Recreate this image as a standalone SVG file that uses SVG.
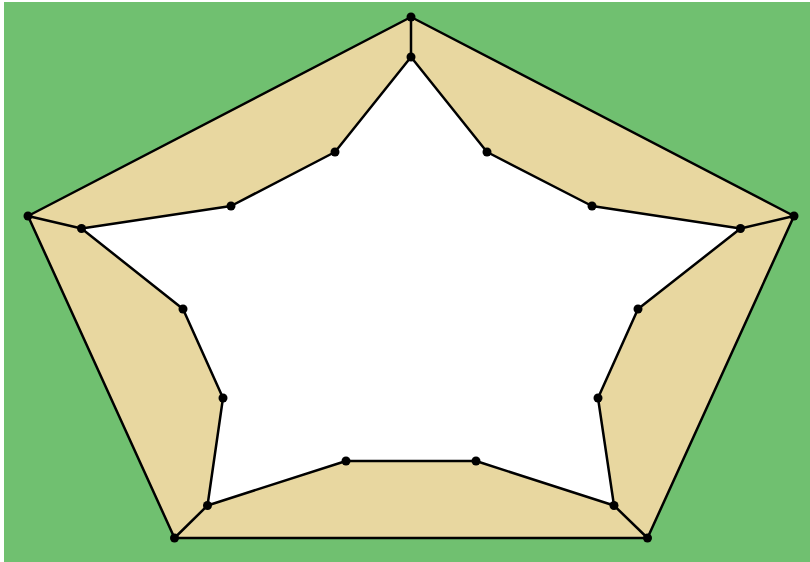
<svg xmlns="http://www.w3.org/2000/svg" width="810" height="562" viewBox="0 0 810 562">
<style>
.e{stroke:#000;stroke-width:2.5;fill:none;stroke-linejoin:round;stroke-linecap:round}
.n{fill:#000}
</style>
<rect x="0" y="0" width="810" height="562" fill="#fff"/>
<rect x="4" y="2" width="806" height="560" fill="#70c070"/>
<polygon points="411,17 794,216 647.5,538 174.5,538 28,216" fill="#e8d7a0"/>
<polygon points="411,57 487,152 592,206 740.5,228.5 638,309 598,398 614,505.5 476,461 346,461 207.5,505.5 223,398 183,309 81.5,228.5 231,206 335,152" fill="#fff"/>
<g id="connectors">
<polygon class="e" points="411,17 794,216 647.5,538 174.5,538 28,216"/>
<polygon class="e" points="411,57 487,152 592,206 740.5,228.5 638,309 598,398 614,505.5 476,461 346,461 207.5,505.5 223,398 183,309 81.5,228.5 231,206 335,152"/>
<line class="e" x1="411" y1="17" x2="411" y2="57"/>
<line class="e" x1="794" y1="216" x2="740.5" y2="228.5"/>
<line class="e" x1="647.5" y1="538" x2="614" y2="505.5"/>
<line class="e" x1="174.5" y1="538" x2="207.5" y2="505.5"/>
<line class="e" x1="28" y1="216" x2="81.5" y2="228.5"/>
</g>
<g id="n1"><circle class="n" cx="411" cy="17" r="4.5"/></g>
<g id="n2"><circle class="n" cx="794" cy="216" r="4.5"/></g>
<g id="n3"><circle class="n" cx="647.5" cy="538" r="4.5"/></g>
<g id="n4"><circle class="n" cx="174.5" cy="538" r="4.5"/></g>
<g id="n5"><circle class="n" cx="28" cy="216" r="4.5"/></g>
<g id="s1"><circle class="n" cx="411" cy="57" r="4.5"/></g>
<g id="s2"><circle class="n" cx="487" cy="152" r="4.5"/></g>
<g id="s3"><circle class="n" cx="592" cy="206" r="4.5"/></g>
<g id="s4"><circle class="n" cx="740.5" cy="228.5" r="4.5"/></g>
<g id="s5"><circle class="n" cx="638" cy="309" r="4.5"/></g>
<g id="s6"><circle class="n" cx="598" cy="398" r="4.5"/></g>
<g id="s7"><circle class="n" cx="614" cy="505.5" r="4.5"/></g>
<g id="s8"><circle class="n" cx="476" cy="461" r="4.5"/></g>
<g id="s9"><circle class="n" cx="346" cy="461" r="4.5"/></g>
<g id="s10"><circle class="n" cx="207.5" cy="505.5" r="4.5"/></g>
<g id="s11"><circle class="n" cx="223" cy="398" r="4.5"/></g>
<g id="s12"><circle class="n" cx="183" cy="309" r="4.5"/></g>
<g id="s13"><circle class="n" cx="81.5" cy="228.5" r="4.5"/></g>
<g id="s14"><circle class="n" cx="231" cy="206" r="4.5"/></g>
<g id="s15"><circle class="n" cx="335" cy="152" r="4.5"/></g>
</svg>
